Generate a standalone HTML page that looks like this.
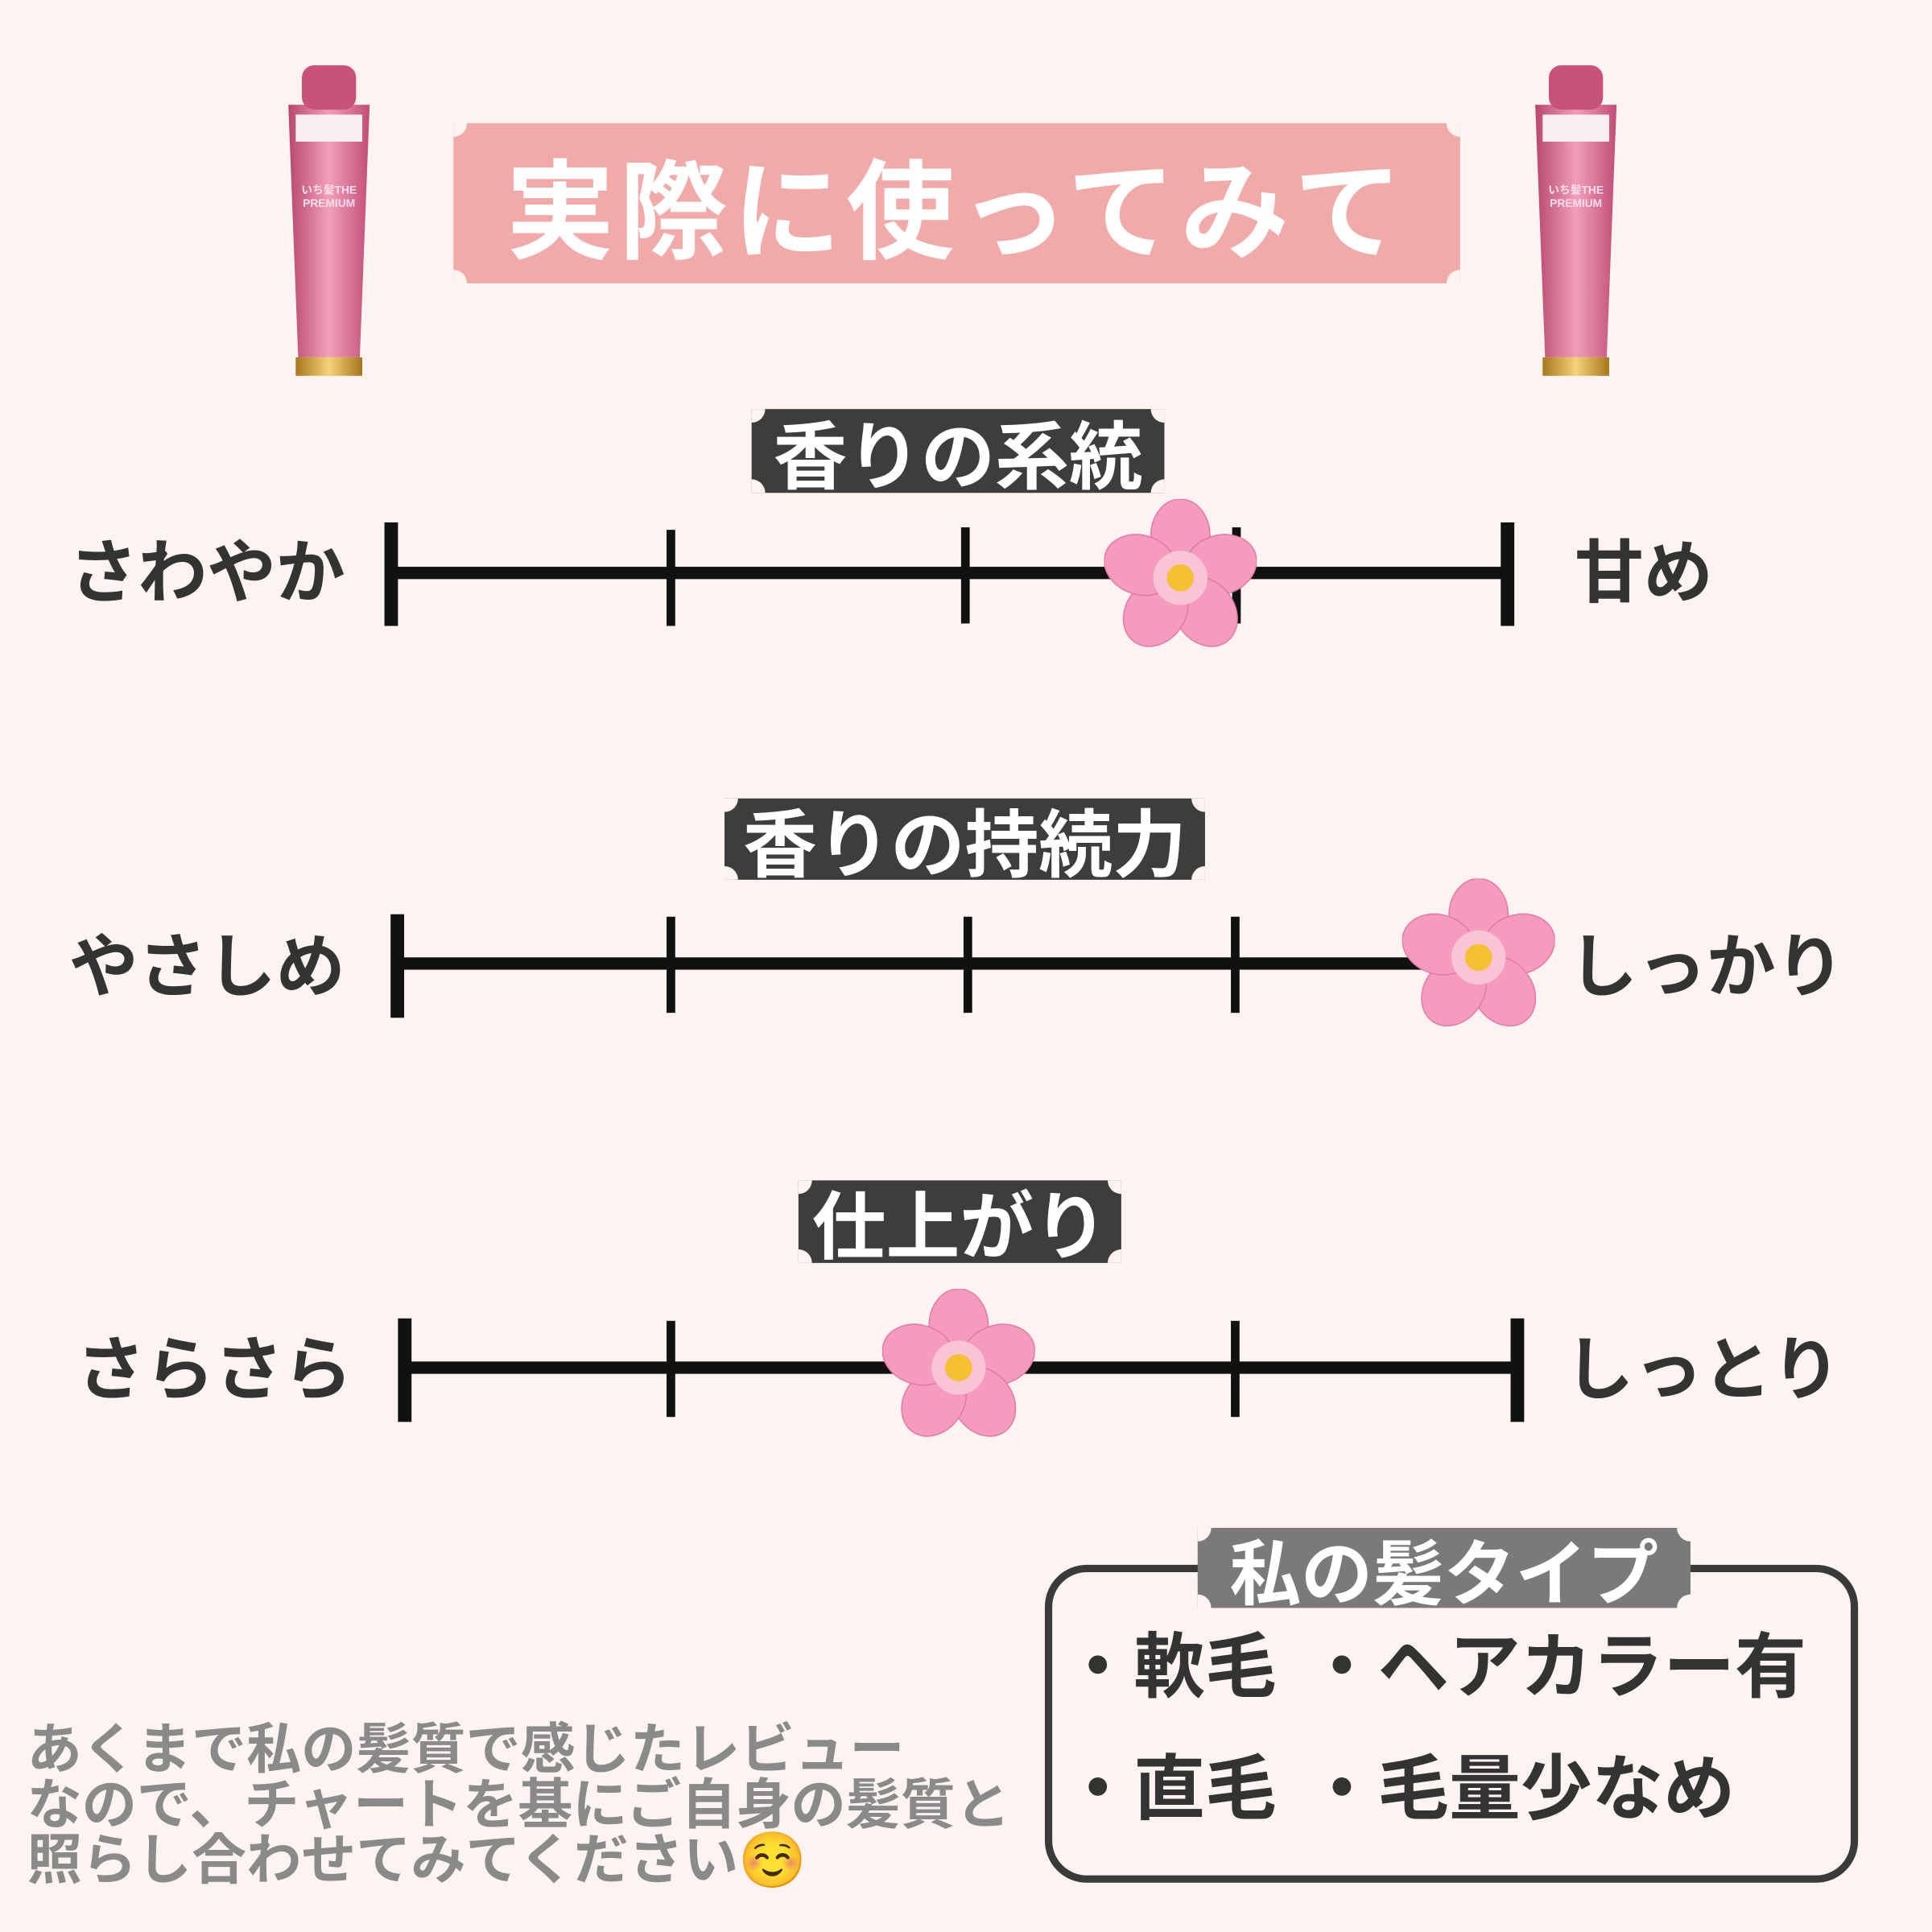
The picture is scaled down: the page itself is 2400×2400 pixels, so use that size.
<!DOCTYPE html>
<html><head><meta charset="utf-8"><style>
html,body{margin:0;padding:0;background:#fdf3f1;}
#wrap{width:1568px;height:1568px;transform:scale(1.530612);transform-origin:0 0;position:relative;overflow:hidden;background:#fdf3f1;font-family:"Liberation Sans","Noto Sans CJK JP",sans-serif;font-weight:700;}
.a{position:absolute;}
.box{position:absolute;overflow:hidden;}
.box i{position:absolute;width:22px;height:22px;border-radius:50%;background:#fdf3f1;}
.tl{left:-11px;top:-11px}.tr{right:-11px;top:-11px}.bl{left:-11px;bottom:-11px}.br{right:-11px;bottom:-11px}
.box .t{position:absolute;left:0;right:0;top:0;bottom:0;display:flex;align-items:center;justify-content:center;color:#fff;white-space:nowrap;}
.lbl{position:absolute;font-size:56px;color:#333;line-height:1;white-space:nowrap;}
.bar{position:absolute;background:#111;}
.fl{position:absolute;width:124px;height:124px;}
</style></head><body><div id="wrap">

<svg class="a" style="left:0;top:0" width="0" height="0">
<defs>
<linearGradient id="tg" x1="0" x2="1"><stop offset="0" stop-color="#b8476f"/><stop offset=".5" stop-color="#f19fb8"/><stop offset="1" stop-color="#c24d78"/></linearGradient>
<linearGradient id="gg" x1="0" x2="1"><stop offset="0" stop-color="#a8761c"/><stop offset=".5" stop-color="#f5d27a"/><stop offset="1" stop-color="#a8761c"/></linearGradient>
<g id="tube">
<path d="M12 40 L78 40 L70 245 L20 245 Z" fill="url(#tg)"/>
<rect x="18" y="245" width="54" height="15" fill="url(#gg)"/>
<rect x="23" y="8" width="44" height="36" rx="10" fill="#c9527d"/>
<rect x="18" y="48" width="54" height="22" fill="#f7eef0"/>
<text x="45" y="112" font-size="9" fill="#fde" text-anchor="middle">いち髪THE</text>
<text x="45" y="123" font-size="9" fill="#fde" text-anchor="middle">PREMIUM</text>
</g>
<g id="flower">
<g fill="#f59bbd" stroke="#e57aa5" stroke-width="1">
<ellipse cx="62" cy="30" rx="24" ry="30"/>
<ellipse cx="62" cy="30" rx="24" ry="30" transform="rotate(72 62 64)"/>
<ellipse cx="62" cy="30" rx="24" ry="30" transform="rotate(144 62 64)"/>
<ellipse cx="62" cy="30" rx="24" ry="30" transform="rotate(216 62 64)"/>
<ellipse cx="62" cy="30" rx="24" ry="30" transform="rotate(288 62 64)"/>
</g>
<circle cx="62" cy="64" r="22" fill="#fbc3d6"/>
<circle cx="62" cy="64" r="11" fill="#f4c132"/>
</g>
</defs></svg>

<svg class="a" style="left:222px;top:45px" width="90" height="262"><use href="#tube"/></svg>
<svg class="a" style="left:1234px;top:45px" width="90" height="262"><use href="#tube"/></svg>

<div class="box" style="left:368px;top:100px;width:817px;height:130px;background:#f2aaa9"><i class="tl"></i><i class="tr"></i><i class="bl"></i><i class="br"></i><div class="t" style="font-size:88px;letter-spacing:4px">実際に使ってみて</div></div>

<div class="box" style="left:610px;top:332px;width:335px;height:68px;background:#3d3d3d"><i class="tl"></i><i class="tr"></i><i class="bl"></i><i class="br"></i><div class="t" style="font-size:60px">香りの系統</div></div>
<div class="box" style="left:588px;top:648px;width:390px;height:66px;background:#3d3d3d"><i class="tl"></i><i class="tr"></i><i class="bl"></i><i class="br"></i><div class="t" style="font-size:60px">香りの持続力</div></div>
<div class="box" style="left:648px;top:958px;width:262px;height:67px;background:#3d3d3d"><i class="tl"></i><i class="tr"></i><i class="bl"></i><i class="br"></i><div class="t" style="font-size:60px">仕上がり</div></div>

<!-- line 1 -->
<div class="lbl" style="left:56px;top:437px">さわやか</div>
<div class="lbl" style="left:1278px;top:437px">甘め</div>
<div class="bar" style="left:317px;top:460px;width:906px;height:10px"></div>
<div class="bar" style="left:312px;top:424px;width:11px;height:84px"></div>
<div class="bar" style="left:1218px;top:424px;width:11px;height:84px"></div>
<div class="bar" style="left:541px;top:430px;width:7px;height:78px"></div>
<div class="bar" style="left:780px;top:428px;width:7px;height:78px"></div>
<div class="bar" style="left:1000px;top:428px;width:7px;height:78px"></div>
<svg class="fl" style="left:896px;top:405px" viewBox="0 0 124 124"><use href="#flower"/></svg>

<!-- line 2 -->
<div class="lbl" style="left:56px;top:757px">やさしめ</div>
<div class="lbl" style="left:1273px;top:757px">しっかり</div>
<div class="bar" style="left:322px;top:777px;width:880px;height:10px"></div>
<div class="bar" style="left:317px;top:742px;width:11px;height:84px"></div>
<div class="bar" style="left:541px;top:744px;width:7px;height:78px"></div>
<div class="bar" style="left:782px;top:744px;width:7px;height:78px"></div>
<div class="bar" style="left:999px;top:744px;width:7px;height:78px"></div>
<svg class="fl" style="left:1138px;top:713px" viewBox="0 0 124 124"><use href="#flower"/></svg>

<!-- line 3 -->
<div class="lbl" style="left:62px;top:1084px">さらさら</div>
<div class="lbl" style="left:1270px;top:1084px">しっとり</div>
<div class="bar" style="left:328px;top:1105px;width:904px;height:10px"></div>
<div class="bar" style="left:323px;top:1070px;width:11px;height:84px"></div>
<div class="bar" style="left:1226px;top:1070px;width:11px;height:84px"></div>
<div class="bar" style="left:541px;top:1072px;width:7px;height:78px"></div>
<div class="bar" style="left:999px;top:1072px;width:7px;height:78px"></div>
<svg class="fl" style="left:716px;top:1046px" viewBox="0 0 124 124"><use href="#flower"/></svg>

<!-- hair type box -->
<div class="a" style="left:848px;top:1270px;width:648px;height:246px;border:6px solid #3a3a3a;border-radius:34px"></div>
<div class="box" style="left:972px;top:1240px;width:400px;height:65px;background:#7a7a7a"><i class="tl"></i><i class="tr"></i><i class="bl"></i><i class="br"></i><div class="t" style="font-size:58px">私の髪タイプ</div></div>
<div class="lbl" style="left:862px;top:1325px;font-size:58px">・軟毛</div>
<div class="lbl" style="left:1060px;top:1325px;font-size:58px">・ヘアカラー有</div>
<div class="lbl" style="left:862px;top:1424px;font-size:58px">・直毛</div>
<div class="lbl" style="left:1060px;top:1424px;font-size:58px">・毛量少なめ</div>

<div class="a" style="left:22px;top:1398px;font-size:44.5px;line-height:45px;color:#8a8a8a;white-space:nowrap">あくまで私の髪質で感じたレビュー<br>なので、チャートを基にご自身の髪質と<br>照らし合わせてみてください☺️</div>

</div></body></html>
